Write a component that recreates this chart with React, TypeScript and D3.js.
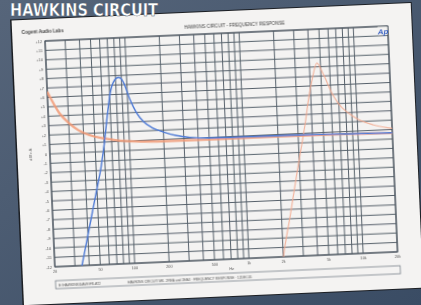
import * as d3 from 'd3';

// Photographed Audio Precision plot: HAWKINS CIRCUIT frequency response

const TICK_FREQS = [20, 50, 100, 200, 500, 1000, 2000, 5000, 10000, 20000];
const TICK_LABELS = ['20', '50', '100', '200', '500', '1k', '2k', '5k', '10k', '20k'];

const DB_MIN = -12;
const DB_MAX = 12;

// blue trace (low-frequency bandpass)
const blueFreq = [33, 40, 45, 50, 55, 60, 66, 71, 77, 85, 93, 105, 118, 135, 160, 200, 260, 340, 500, 1000, 3000, 8000, 20000];
const blueDb = [-13, -8.8, -6.2, -3.9, -1.8, 0.7, 4.0, 6.2, 7.4, 7.8, 7.3, 5.4, 4.0, 3.0, 2.3, 1.8, 1.35, 1.1, 0.95, 0.9, 0.85, 0.75, 0.65];

// orange trace (low shelf then flat)
const orangeFreq = [20, 25, 30, 36, 45, 60, 80, 124, 200, 500, 2000, 8000, 20000];
const orangeDb = [6.6, 4.3, 3.2, 2.4, 1.8, 1.4, 1.1, 0.88, 0.8, 0.78, 0.78, 0.72, 0.62];

// faint orange trace (high-frequency bandpass)
const faintFreq = [1950, 2010, 2400, 2830, 3500, 3900, 4160, 4670, 5200, 6330, 9300, 13800, 20000];
const faintDb = [-13, -12, -7.5, -3.2, 2.1, 5.2, 6.6, 8.4, 7.3, 4.8, 2.55, 1.57, 1.13];

const W = 343;
const H = 226;

export default function App() {
  const x = d3.scaleLog().domain([20, 20000]).range([0, W]);
  const y = d3.scaleLinear().domain([DB_MIN, DB_MAX]).range([H, 0]);

  const gridFreqs = x.ticks();
  const dbs = d3.range(DB_MIN, DB_MAX + 1, 1);

  const line = d3
    .line<[number, number]>()
    .x((d) => x(d[0]))
    .y((d) => y(d[1]))
    .curve(d3.curveMonotoneX);

  const zip = (f: number[], v: number[]) => f.map((d, i) => [d, v[i]] as [number, number]);

  return (
    <svg
      width={421}
      height={305}
      style={{ position: 'absolute', left: 0, top: 0 }}
    >
      <defs>
        <linearGradient id="bg" x1="0" y1="0" x2="1" y2="1">
          <stop offset="0%" stopColor="#56657a" />
          <stop offset="100%" stopColor="#3a4c64" />
        </linearGradient>
        <filter id="soft" x="-5%" y="-5%" width="110%" height="110%">
          <feGaussianBlur stdDeviation="0.45" />
        </filter>
        <clipPath id="plotClip">
          <rect x={0} y={0} width={W} height={H} />
        </clipPath>
      </defs>

      <rect width={421} height={305} fill="url(#bg)" />

      <g transform="translate(45,41) rotate(-2.5)">
        {/* paper with dark edge */}
        <rect x={-34} y={-23} width={402} height={287} fill="#1c1f24" />
        <rect x={-32.5} y={-22} width={399.5} height={285} fill="#f4f3f2" />

        <g filter="url(#soft)" fontFamily="'Liberation Sans', Arial, sans-serif">
          <text x={-23} y={-8} fontSize={4.6} fill="#444" fontWeight="bold">
            Cogent Audio Labs
          </text>
          <text x={190} y={-6} fontSize={4.6} fill="#444" textAnchor="middle">
            HAWKINS CIRCUIT - FREQUENCY RESPONSE
          </text>

          {/* grid */}
          {dbs.map((d) => (
            <line key={'h' + d} x1={0} x2={W} y1={y(d)} y2={y(d)} stroke="#56616b" strokeWidth={1} />
          ))}
          {gridFreqs.map((f) => (
            <line key={'v' + f} x1={x(f)} x2={x(f)} y1={0} y2={H} stroke="#56616b" strokeWidth={1} />
          ))}
          <rect x={0} y={0} width={W} height={H} fill="none" stroke="#4c5660" strokeWidth={1.1} />

          {/* Ap logo */}
          <rect x={333} y={0.5} width={9.5} height={8} fill="#f4f3f2" />
          <text x={338} y={7.5} fontSize={8} fill="#2f5fc4" fontWeight="bold" fontStyle="italic" textAnchor="middle">
            Ap
          </text>

          {/* y tick labels */}
          {dbs.map((d) => (
            <text key={'yl' + d} x={-3} y={y(d) + 1.5} fontSize={3.8} fill="#555" textAnchor="end">
              {d > 0 ? '+' + d : d}
            </text>
          ))}
          <text x={-18} y={113} fontSize={4.2} fill="#555" textAnchor="middle" transform="rotate(-90 -18 113)">
            d B r A
          </text>

          {/* x tick labels */}
          {TICK_FREQS.map((f, i) => (
            <text key={'xl' + f} x={x(f)} y={H + 5.5} fontSize={3.8} fill="#555" textAnchor="middle">
              {TICK_LABELS[i]}
            </text>
          ))}
          <text x={x(700)} y={H + 11} fontSize={3.8} fill="#555" textAnchor="middle">
            Hz
          </text>

          {/* footer box */}
          <rect x={0} y={H + 14} width={345} height={8} fill="none" stroke="#7a838c" strokeWidth={0.8} />
          <text x={3} y={H + 19.5} fontSize={3.4} fill="#555">
            E:\HAWKINS\DAVE\FR.AT2
          </text>
          <text x={72} y={H + 19.5} fontSize={3.4} fill="#555">
            HAWKINS CIRCUIT MK. 2REA and 2EA3 · FREQUENCY RESPONSE · 12DEC05
          </text>

          {/* traces */}
          <g clipPath="url(#plotClip)" fill="none">
            <path d={line(zip(faintFreq, faintDb)) ?? ''} stroke="#f2a88c" strokeWidth={1.2} opacity={0.8} />
            <path d={line(zip(orangeFreq, orangeDb)) ?? ''} stroke="#f29a76" strokeWidth={2.3} opacity={0.85} />
            <path d={line(zip(blueFreq, blueDb)) ?? ''} stroke="#4d7ad6" strokeWidth={1.4} />
          </g>
        </g>
      </g>

      <text
        x={10}
        y={16}
        fill="#ffffff"
        stroke="#4a596c"
        strokeWidth={0.4}
        fontFamily="'DejaVu Sans Condensed', 'DejaVu Sans', sans-serif"
        fontWeight="bold"
        fontSize={17}
        textLength={148}
        lengthAdjust="spacingAndGlyphs"
      >
        HAWKINS CIRCUIT
      </text>
    </svg>
  );
}
